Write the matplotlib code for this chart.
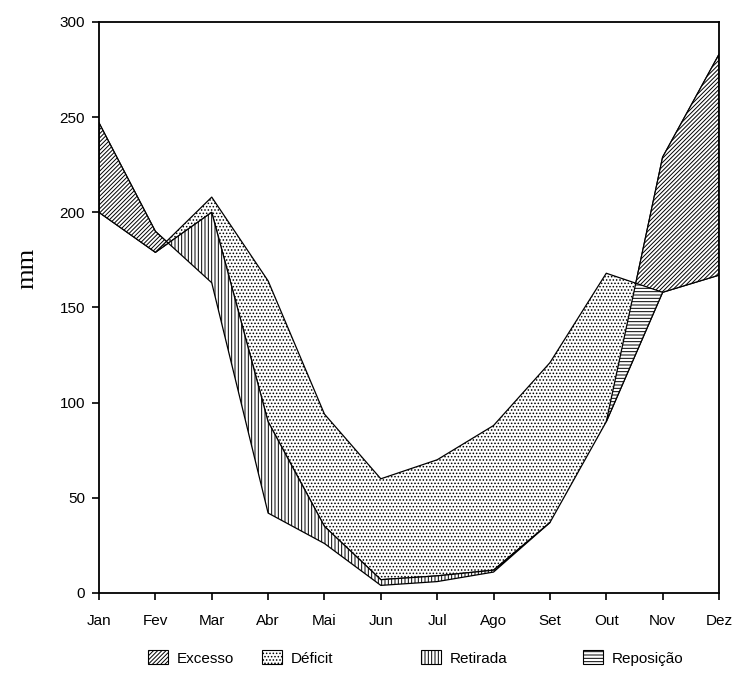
import numpy as np
import matplotlib
matplotlib.use("Agg")
import matplotlib.pyplot as plt
from matplotlib.patches import Patch

# Monthly water balance (mm)
months = ['Jan', 'Fev', 'Mar', 'Abr', 'Mai', 'Jun', 'Jul', 'Ago', 'Set', 'Out', 'Nov', 'Dez']
precip = [247, 190, 163, 42, 26, 4, 6, 11, 37, 90, 229, 283]   # P
etp = [200, 179, 208, 164, 94, 60, 70, 88, 121, 168, 158, 167]  # ETP
etr = [200, 179, 200, 90, 35, 7, 9, 12, 37, 90, 158, 167]       # ETR
yticks = [0, 50, 100, 150, 200, 250, 300]

plt.rcParams['font.family'] = ['Liberation Sans', 'DejaVu Sans']
plt.rcParams['hatch.linewidth'] = 0.7

fig = plt.figure(figsize=(7.4, 6.84), dpi=100)
ax = fig.add_axes([99 / 740, 1 - 593 / 684, 620 / 740, 571 / 684])

x = np.arange(len(months))
P = np.array(precip, dtype=float)
E = np.array(etp, dtype=float)
R = np.array(etr, dtype=float)

style = dict(facecolor='white', edgecolor='black', linewidth=0.9)

# Deficit: between ETR and ETP
ax.fill_between(x, R, E, where=E > R, interpolate=True, hatch='.....', **style)
# Soil-water withdrawal: between P and ETR where ETR exceeds P
ax.fill_between(x, P, R, where=R > P, interpolate=True, hatch='|||||', **style)
# Soil-water recharge: between ETR and P where P exceeds ETR
ax.fill_between(x, R, P, where=P > R, interpolate=True, hatch='-----', **style)
# Surplus: between ETP and P where P exceeds ETP
ax.fill_between(x, E, P, where=P > E, interpolate=True, hatch='////////', **style)

ax.set_xlim(0, len(months) - 1)
ax.set_ylim(0, 300)
ax.set_xticks(x)
ax.set_xticklabels(months)
ax.set_yticks(yticks)
ax.tick_params(axis='both', direction='out', length=5, width=1.2, labelsize=11)
ax.tick_params(axis='x', pad=10)
ax.tick_params(axis='y', pad=5)
for s in ax.spines.values():
    s.set_linewidth(1.3)

ax.set_ylabel('mm', family=['Liberation Serif', 'DejaVu Serif'], fontsize=19)
ax.yaxis.set_label_coords(-0.098, 0.569)

legend_items = [
    ('Excesso', '////////', 148),
    ('Déficit', '.....', 262),
    ('Retirada', '|||||', 421),
    ('Reposição', '-----', 583),
]
for label, hatch, px in legend_items:
    h = Patch(facecolor='white', edgecolor='black', linewidth=0.8, hatch=hatch, label=label)
    fig.legend(handles=[h], loc='center left', bbox_to_anchor=(px / 740, 1 - 658 / 684),
               frameon=False, borderpad=0, borderaxespad=0, handlelength=1.3,
               handleheight=1.0, handletextpad=0.6, fontsize=11)

fig.savefig('out.png', dpi=100)
